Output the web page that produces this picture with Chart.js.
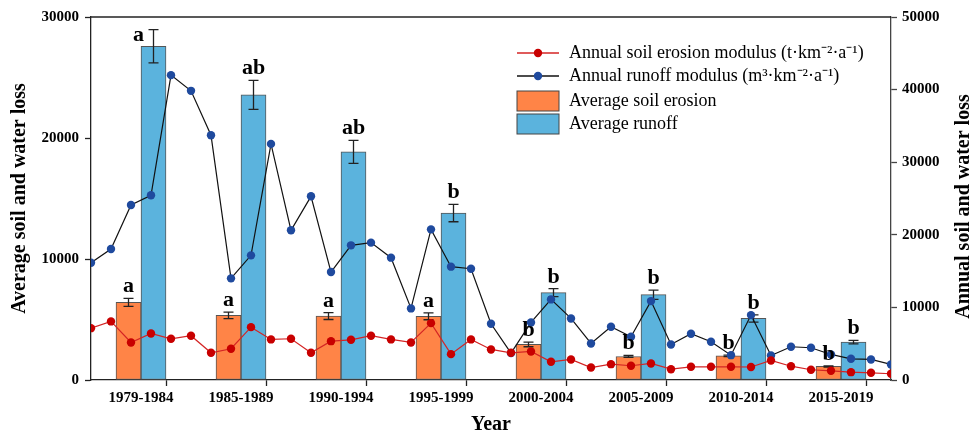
<!DOCTYPE html>
<html>
<head>
<meta charset="utf-8">
<script src="https://cdn.jsdelivr.net/npm/chart.js"></script>
<style>
  body { margin: 0; background: #fff; }
  #wrap { width: 969px; height: 439px; }
</style>
</head>
<body>
<div id="wrap"><canvas id="myChart" width="969" height="439"></canvas></div>
<script>
// period groups on the x axis
const periods = ["1979-1984","1985-1989","1990-1994","1995-1999","2000-2004","2005-2009","2010-2014","2015-2019"];

// yearly series (right axis)
const years = [1979,1980,1981,1982,1983,1984,1985,1986,1987,1988,1989,1990,1991,1992,1993,1994,1995,1996,1997,1998,
               1999,2000,2001,2002,2003,2004,2005,2006,2007,2008,2009,2010,2011,2012,2013,2014,2015,2016,2017,2018,2019];
const erosionAnnual = [7140,8070,5170,6410,5680,6100,3750,4300,7280,5590,
                       5680,3750,5350,5540,6100,5590,5170,7830,3560,5590,
                       4210,3750,3930,2510,2830,1720,2180,1960,2280,1490,
                       1820,1820,1820,1790,2690,1900,1410,1270,1080,990,860];
const runoffAnnual = [16160,18040,24100,25440,41990,39830,33720,14000,17170,32520,
                      20620,25300,14870,18550,18920,16850,9860,20750,15610,15330,
                      7750,3700,7930,11100,8480,5030,7340,5960,10870,4900,
                      6370,5270,3420,8940,3380,4580,4440,3520,2920,2830,2140];

// period averages (left axis)
const erosionAvg = [6410,5340,5280,5260,2940,1945,2000,1120];
const erosionErr = [330,270,280,280,190,80,60,50];
const erosionSig = ["a","a","a","a","b","b","b","b"];
const runoffAvg = [27580,23570,18850,13800,7220,7050,5090,3130];
const runoffErr = [1370,1200,950,720,330,380,300,150];
const runoffSig = ["a","ab","ab","b","b","b","b","b"];

const leftTicks = [0,10000,20000,30000];
const rightTicks = [0,10000,20000,30000,40000,50000];

const seriesNames = [
  "Annual soil erosion modulus (t\u00B7km\u207B\u00B2\u00B7a\u207B\u00B9)",
  "Annual runoff modulus (m\u00B3\u00B7km\u207B\u00B2\u00B7a\u207B\u00B9)",
  "Average soil erosion",
  "Average runoff"
];

const serif = "'Liberation Serif', 'Times New Roman', serif";
Chart.defaults.font.family = serif;
Chart.defaults.color = "#000";

const orange = "#FF8447";
const blue = "#5BB3DD";

// error bars drawn right after each bar dataset
const errorBars = {
  id: "errorBars",
  afterDatasetDraw(chart, args) {
    const ds = chart.data.datasets[args.index];
    if (!ds.errors) return;
    const ctx = chart.ctx, y = chart.scales.y;
    ctx.save();
    ctx.strokeStyle = "#222";
    ctx.lineWidth = 1.3;
    args.meta.data.forEach((bar, k) => {
      const v = ds.data[k].y, e = ds.errors[k];
      const top = y.getPixelForValue(v + e), bot = y.getPixelForValue(v - e);
      ctx.beginPath();
      ctx.moveTo(bar.x, top); ctx.lineTo(bar.x, bot);
      ctx.moveTo(bar.x - 5, top); ctx.lineTo(bar.x + 5, top);
      ctx.moveTo(bar.x - 5, bot); ctx.lineTo(bar.x + 5, bot);
      ctx.stroke();
    });
    ctx.restore();
  }
};

// significance letters, frame, legend and right title
const decorations = {
  id: "decorations",
  afterDatasetsDraw(chart) {
    const ctx = chart.ctx, area = chart.chartArea, y = chart.scales.y;
    ctx.save();
    ctx.font = "bold 22px " + serif;
    ctx.fillStyle = "#000";
    ctx.textAlign = "center";
    ctx.textBaseline = "alphabetic";
    chart.data.datasets.forEach((ds, i) => {
      if (!ds.sig) return;
      chart.getDatasetMeta(i).data.forEach((bar, k) => {
        const topPx = y.getPixelForValue(ds.data[k].y + ds.errors[k]);
        let lx = bar.x, ly = topPx - 6;
        if (ly - 16 < area.top) { lx = bar.x - 15; ly = bar.y - 5; }
        ctx.fillText(ds.sig[k], lx, ly);
      });
    });

    // top frame line
    ctx.strokeStyle = "#222";
    ctx.lineWidth = 1.3;
    ctx.beginPath();
    ctx.moveTo(area.left, area.top); ctx.lineTo(area.right, area.top);
    ctx.stroke();

    // legend
    const lx = area.left + 426, rows = [36, 59, 84, 107];
    ctx.font = "18px " + serif;
    ctx.textAlign = "left";
    ctx.textBaseline = "middle";
    chart.data.datasets.forEach((ds, i) => {
      const cy = area.top + rows[i];
      if (ds.type === "line") {
        ctx.strokeStyle = ds.borderColor; ctx.lineWidth = 1.3;
        ctx.beginPath(); ctx.moveTo(lx, cy); ctx.lineTo(lx + 42, cy); ctx.stroke();
        ctx.fillStyle = ds.pointBackgroundColor;
        ctx.beginPath(); ctx.arc(lx + 21, cy, 4.2, 0, Math.PI * 2); ctx.fill();
      } else {
        ctx.fillStyle = ds.backgroundColor;
        ctx.fillRect(lx, cy - 10, 42, 20);
        ctx.strokeStyle = "#444"; ctx.lineWidth = 1;
        ctx.strokeRect(lx, cy - 10, 42, 20);
      }
      ctx.fillStyle = "#000";
      ctx.fillText(ds.label, lx + 52, cy);
    });

    // right axis title, reading bottom to top
    ctx.font = "bold 20px " + serif;
    ctx.textAlign = "center";
    ctx.translate(964, (area.top + area.bottom) / 2 + 8);
    ctx.rotate(-Math.PI / 2);
    ctx.fillText("Annual soil and water loss", 0, 0);
    ctx.restore();
  }
};

const lineX = yr => (yr - years[0]) / 5;

const config = {
  data: {
    datasets: [{
      type: "line",
      label: seriesNames[0],
      data: years.map((yr, i) => ({ x: lineX(yr), y: erosionAnnual[i] })),
      yAxisID: "y1",
      borderColor: "#D42424",
      borderWidth: 1.2,
      pointBackgroundColor: "#C80000",
      pointBorderWidth: 0,
      pointRadius: 4.2,
      tension: 0,
      order: 1
    }, {
      type: "line",
      label: seriesNames[1],
      data: years.map((yr, i) => ({ x: lineX(yr), y: runoffAnnual[i] })),
      yAxisID: "y1",
      borderColor: "#111",
      borderWidth: 1.2,
      pointBackgroundColor: "#1F4A9E",
      pointBorderWidth: 0,
      pointRadius: 4.2,
      tension: 0,
      order: 1
    }, {
      type: "bar",
      label: seriesNames[2],
      data: periods.map((p, g) => ({ x: g + 0.375, y: erosionAvg[g] })),
      errors: erosionErr,
      sig: erosionSig,
      yAxisID: "y",
      backgroundColor: orange,
      borderColor: "#555",
      borderWidth: 1,
      borderSkipped: false,
      barThickness: 25,
      grouped: false,
      order: 2
    }, {
      type: "bar",
      label: seriesNames[3],
      data: periods.map((p, g) => ({ x: g + 0.625, y: runoffAvg[g] })),
      errors: runoffErr,
      sig: runoffSig,
      yAxisID: "y",
      backgroundColor: blue,
      borderColor: "#555",
      borderWidth: 1,
      borderSkipped: false,
      barThickness: 25,
      grouped: false,
      order: 2
    }]
  },
  options: {
    responsive: false,
    animation: false,
    layout: { padding: { left: 4, right: 0, top: 17, bottom: 0 } },
    plugins: { legend: { display: false }, tooltip: { enabled: false } },
    scales: {
      x: {
        type: "linear",
        position: "bottom",
        min: 0,
        max: periods.length,
        offset: false,
        afterBuildTicks: s => {
          const t = [];
          for (let g = 0; g <= periods.length; g++) {
            t.push({ value: g });
            if (g < periods.length) t.push({ value: g + 0.5 });
          }
          s.ticks = t;
        },
        afterFit: s => { s.height = 59; },
        ticks: {
          autoSkip: false,
          maxRotation: 0,
          padding: 3,
          font: { size: 15, weight: "bold" },
          callback: v => (v % 1 === 0.5 ? periods[Math.floor(v)] : "")
        },
        grid: {
          drawOnChartArea: false,
          tickLength: 6,
          tickWidth: 1.3,
          tickColor: c => (c.tick && c.tick.value % 1 === 0 ? "#222" : "rgba(0,0,0,0)")
        },
        border: { color: "#222", width: 1.3 },
        title: { display: true, text: "Year", font: { size: 20, weight: "bold" }, padding: { top: 0, bottom: 2 } }
      },
      y: {
        position: "left",
        min: 0,
        max: 30000,
        afterBuildTicks: s => { s.ticks = leftTicks.map(v => ({ value: v })); },
        afterFit: s => { s.width = 87; },
        ticks: { padding: 6, font: { size: 15, weight: "bold" }, callback: v => String(v) },
        grid: { drawOnChartArea: false, tickLength: 6, tickWidth: 1.3, tickColor: "#222" },
        border: { color: "#222", width: 1.3 },
        title: { display: true, text: "Average soil and water loss", font: { size: 20, weight: "bold" }, padding: { top: 4, bottom: 0 } }
      },
      y1: {
        position: "right",
        min: 0,
        max: 50000,
        afterBuildTicks: s => { s.ticks = rightTicks.map(v => ({ value: v })); },
        afterFit: s => { s.width = 78; },
        ticks: { padding: 5, font: { size: 15, weight: "bold" }, callback: v => String(v) },
        grid: { drawOnChartArea: false, tickLength: 6, tickWidth: 1.3, tickColor: "#444" },
        border: { color: "#444", width: 1.3 }
      }
    }
  },
  plugins: [errorBars, decorations]
};

new Chart(document.getElementById("myChart"), config);
</script>
</body>
</html>
